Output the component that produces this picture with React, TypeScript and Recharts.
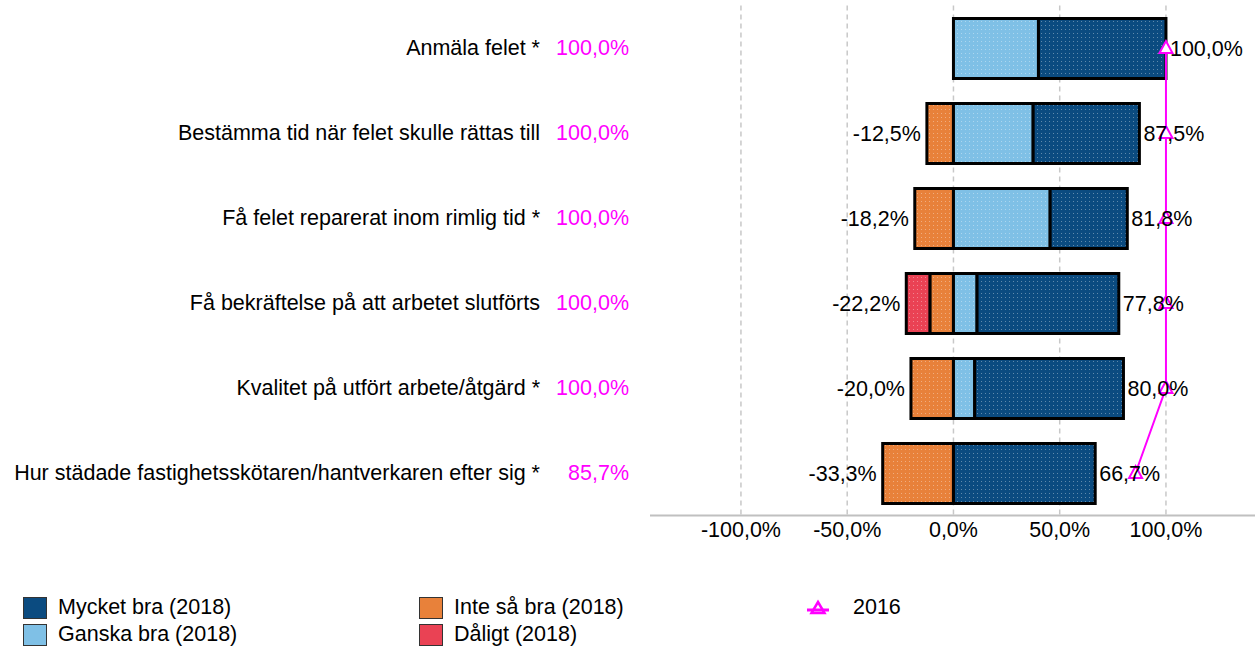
import React from 'react';
import {
  ComposedChart,
  Bar,
  Line,
  XAxis,
  YAxis,
  CartesianGrid,
  LabelList,
} from 'recharts';

const categories = [
  'Anmäla felet *',
  'Bestämma tid när felet skulle rättas till',
  'Få felet reparerat inom rimlig tid *',
  'Få bekräftelse på att arbetet slutförts',
  'Kvalitet på utfört arbete/åtgärd *',
  'Hur städade fastighetsskötaren/hantverkaren efter sig *',
];

const mycketBra = [60, 50, 36.3, 66.7, 70, 66.7];
const ganskaBra = [40, 37.5, 45.5, 11.1, 10, 0];
const inteSaBra = [0, -12.5, -18.2, -11.1, -20, -33.3];
const daligt = [0, 0, 0, -11.1, 0, 0];
const values2016 = [100, 100, 100, 100, 100, 85.7];
const xTicks = [-100, -50, 0, 50, 100];

const FONT = '"Liberation Sans", Arial, sans-serif';
const FS = 21.5;
const MAGENTA = '#FF00FF';

const series = [
  { key: 'mycket', name: 'Mycket bra (2018)', color: '#0B4B80' },
  { key: 'ganska', name: 'Ganska bra (2018)', color: '#7FC0E6' },
  { key: 'inte', name: 'Inte så bra (2018)', color: '#E8813A' },
  { key: 'daligt', name: 'Dåligt (2018)', color: '#EA4254' },
];

const data = categories.map((name, i) => ({
  name,
  mycket: mycketBra[i],
  ganska: ganskaBra[i],
  inte: inteSaBra[i],
  daligt: daligt[i],
  y2016: values2016[i],
}));

const fmt = (v: number) => `${v.toFixed(1).replace('.', ',')}%`;

const CategoryTick = (props: any) => {
  const { x, y, payload } = props;
  const i = categories.indexOf(payload.value);
  return (
    <g>
      <text x={x - 108} y={y} textAnchor="end" dominantBaseline="central" fontSize={FS} fill="#000" fontFamily={FONT}>
        {payload.value}
      </text>
      <text x={x - 19} y={y} textAnchor="end" dominantBaseline="central" fontSize={FS} fill={MAGENTA} fontFamily={FONT}>
        {fmt(values2016[i])}
      </text>
    </g>
  );
};

const box = (p: any) => {
  const v = p.viewBox && p.x === undefined ? p.viewBox : p;
  return { x: Number(v.x), y: Number(v.y), w: Number(v.width), h: Number(v.height) };
};

// LabelLists read the category name so each label can find its own row
const totalLabel = (p: any) => {
  const i = categories.indexOf(p.value);
  if (i < 0) return null;
  const { x, y, w, h } = box(p);
  const total = mycketBra[i] + ganskaBra[i];
  return (
    <text x={Math.max(x, x + w) + 4} y={y + h / 2} dominantBaseline="central" fontSize={FS} fill="#000" fontFamily={FONT}>
      {fmt(total)}
    </text>
  );
};

const negLabel = (outer: 'inte' | 'daligt') => (p: any) => {
  const i = categories.indexOf(p.value);
  if (i < 0) return null;
  if (outer === 'inte' && (inteSaBra[i] === 0 || daligt[i] !== 0)) return null;
  if (outer === 'daligt' && daligt[i] === 0) return null;
  const { x, y, w, h } = box(p);
  const neg = inteSaBra[i] + daligt[i];
  return (
    <text x={Math.min(x, x + w) - 6} y={y + h / 2} textAnchor="end" dominantBaseline="central" fontSize={FS} fill="#000" fontFamily={FONT}>
      {fmt(neg)}
    </text>
  );
};

const TriangleDot = (props: any) => {
  const { cx, cy, index } = props;
  if (cx == null || cy == null) return null;
  return (
    <path
      key={`tri-${index}`}
      d={`M${cx},${cy - 7} L${cx + 6.5},${cy + 5} L${cx - 6.5},${cy + 5} Z`}
      fill="#fff"
      stroke={MAGENTA}
      strokeWidth={2}
    />
  );
};

const LegendBox = ({ color, label }: { color: string; label: string }) => (
  <div style={{ display: 'flex', alignItems: 'center', height: 27 }}>
    <div style={{ width: 24, height: 22, background: color, border: '1.5px solid #333', boxSizing: 'border-box', marginRight: 11 }} />
    <span style={{ fontSize: FS, fontFamily: FONT, color: '#000' }}>{label}</span>
  </div>
);

export default function App() {
  return (
    <div style={{ position: 'absolute', left: 0, top: 0, width: 1255, height: 654, background: '#fff' }}>
      <ComposedChart
        width={1255}
        height={654}
        data={data}
        layout="vertical"
        stackOffset="sign"
        barCategoryGap={0}
        margin={{ top: 5.5, right: 0, left: 0, bottom: 108.5 }}
      >
        <defs>
          {series.map((s) => (
            <pattern key={s.key} id={`pat-${s.key}`} width="4" height="4" patternUnits="userSpaceOnUse">
              <rect width="4" height="4" fill={s.color} />
              <rect x="1" y="1" width="1" height="1" fill="#fff" opacity="0.35" />
            </pattern>
          ))}
        </defs>
        <CartesianGrid
          horizontal={false}
          verticalValues={xTicks}
          strokeDasharray="5 4"
          stroke="#c8c8c8"
          strokeWidth={1.5}
        />
        <XAxis
          type="number"
          domain={[-142.8, 141.9]}
          ticks={xTicks}
          tickFormatter={fmt}
          axisLine={{ stroke: '#c0c0c0', strokeWidth: 2 }}
          tickLine={false}
          tickSize={0}
          tickMargin={6}
          height={30}
          tick={{ fontSize: FS, fill: '#000', fontFamily: FONT }}
          allowDataOverflow
        />
        <YAxis
          type="category"
          dataKey="name"
          width={650}
          axisLine={false}
          tickLine={false}
          tickSize={0}
          tick={<CategoryTick />}
        />
        <Bar dataKey="inte" stackId="a" barSize={60} fill="url(#pat-inte)" stroke="#000" strokeWidth={3} isAnimationActive={false}>
          <LabelList dataKey="name" content={negLabel('inte')} />
        </Bar>
        <Bar dataKey="daligt" stackId="a" barSize={60} fill="url(#pat-daligt)" stroke="#000" strokeWidth={3} isAnimationActive={false}>
          <LabelList dataKey="name" content={negLabel('daligt')} />
        </Bar>
        <Bar dataKey="ganska" stackId="a" barSize={60} fill="url(#pat-ganska)" stroke="#000" strokeWidth={3} isAnimationActive={false} />
        <Bar dataKey="mycket" stackId="a" barSize={60} fill="url(#pat-mycket)" stroke="#000" strokeWidth={3} isAnimationActive={false}>
          <LabelList dataKey="name" content={totalLabel} />
        </Bar>
        <Line dataKey="y2016" stroke={MAGENTA} strokeWidth={2} dot={TriangleDot} activeDot={false} isAnimationActive={false} />
      </ComposedChart>

      <div style={{ position: 'absolute', left: 23, top: 594 }}>
        <LegendBox color={series[0].color} label={series[0].name} />
        <LegendBox color={series[1].color} label={series[1].name} />
      </div>
      <div style={{ position: 'absolute', left: 419, top: 594 }}>
        <LegendBox color={series[2].color} label={series[2].name} />
        <LegendBox color={series[3].color} label={series[3].name} />
      </div>
      <div style={{ position: 'absolute', left: 805, top: 594, display: 'flex', alignItems: 'center', height: 27 }}>
        <svg width={30} height={20} style={{ marginRight: 18 }}>
          <path d="M13,4 L19.5,15 L6.5,15 Z" fill="#fff" stroke={MAGENTA} strokeWidth={2.5} />
          <line x1={2} y1={12} x2={24} y2={12} stroke={MAGENTA} strokeWidth={3} />
        </svg>
        <span style={{ fontSize: FS, fontFamily: FONT, color: '#000' }}>2016</span>
      </div>
    </div>
  );
}
